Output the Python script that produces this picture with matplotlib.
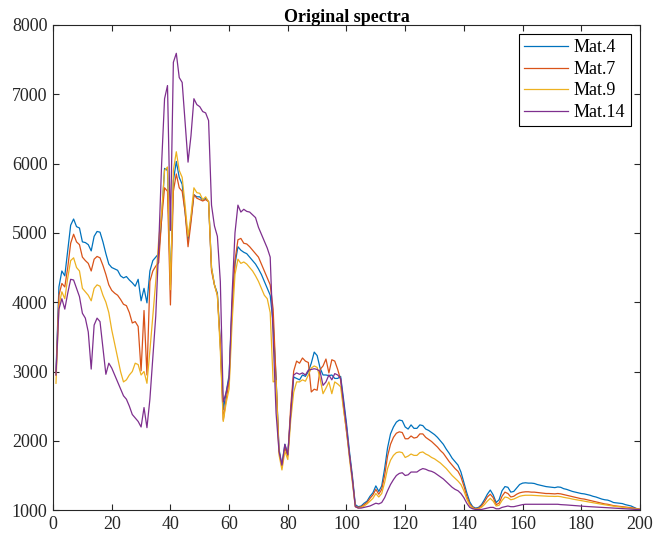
import numpy as np
import matplotlib
matplotlib.use("Agg")
import matplotlib.pyplot as plt

# band index 1..200
bands = list(range(1, 201))

mat4 = [3000, 4220, 4450, 4380, 4750, 5110, 5200, 5090, 5070, 4870,
        4860, 4830, 4740, 4950, 5020, 5010, 4870, 4700, 4550, 4500,
        4480, 4460, 4380, 4350, 4370, 4320, 4280, 4230, 4330, 4020,
        4200, 3990, 4450, 4600, 4650, 4700, 5200, 5930, 5900, 4250,
        5750, 6030, 5800, 5700, 5300, 4900, 5200, 5550, 5520, 5520,
        5470, 5500, 5450, 4500, 4250, 4130, 3400, 2450, 2700, 2950,
        3950, 4550, 4800, 4750, 4720, 4700, 4650, 4600, 4550, 4480,
        4400, 4300, 4200, 4100, 3700, 2900, 1880, 1650, 1950, 1800,
        2400, 2920, 2900, 2880, 2950, 2930, 3000, 3120, 3280, 3230,
        3050, 2950, 2950, 2940, 2950, 2900, 2900, 2930, 2600, 2250,
        1850, 1500, 1080, 1050, 1060, 1100, 1130, 1200, 1250, 1350,
        1270, 1350, 1600, 1900, 2100, 2200, 2270, 2300, 2290, 2200,
        2170, 2230, 2180, 2180, 2230, 2220, 2170, 2150, 2120, 2090,
        2050, 2000, 1950, 1880, 1820, 1750, 1700, 1650, 1550, 1400,
        1250, 1120, 1050, 1030, 1040, 1080, 1150, 1230, 1290, 1220,
        1110, 1150, 1280, 1340, 1330, 1260, 1270, 1320, 1370, 1390,
        1395, 1390, 1390, 1385, 1370, 1360, 1350, 1340, 1335, 1330,
        1325, 1335, 1330, 1310, 1300, 1285, 1270, 1260, 1250, 1240,
        1235, 1225, 1215, 1200, 1190, 1175, 1160, 1150, 1145, 1130,
        1110, 1105, 1100, 1095, 1080, 1070, 1060, 1040, 1020, 1010]

mat7 = [2950, 4100, 4270, 4220, 4500, 4850, 4980, 4870, 4830, 4650,
        4600, 4560, 4450, 4620, 4660, 4640, 4530, 4400, 4250, 4170,
        4130, 4100, 4040, 3970, 3950, 3850, 3700, 3720, 3650, 3010,
        3880, 2950, 4300, 4450, 4520, 4570, 5200, 5650, 5600, 3960,
        5600, 5850, 5650, 5600, 5300, 4800, 5150, 5550, 5500, 5480,
        5460, 5480, 5450, 4450, 4250, 4100, 3400, 2300, 2600, 2850,
        3900, 4600, 4900, 4920, 4850, 4840, 4800, 4750, 4700, 4650,
        4550, 4450, 4350, 4250, 3900, 2900, 1850, 1620, 1900, 1780,
        2500, 3005, 3150, 3120, 3195, 3150, 3130, 2705, 2745, 2730,
        3030, 3080, 3180, 2980, 3170, 3150, 3030, 2880, 2480, 2130,
        1800, 1450, 1060, 1040, 1050, 1080, 1110, 1170, 1220, 1300,
        1230, 1300, 1500, 1780, 1950, 2050, 2110, 2130, 2120, 2030,
        2030, 2070, 2040, 2050, 2100, 2100, 2050, 2020, 1990, 1950,
        1910, 1860, 1820, 1760, 1700, 1650, 1600, 1560, 1480, 1350,
        1200, 1090, 1040, 1020, 1030, 1060, 1120, 1190, 1230, 1180,
        1080, 1100, 1200, 1260, 1240, 1190, 1200, 1230, 1250, 1260,
        1265, 1265, 1260, 1260, 1255, 1250, 1245, 1240, 1240, 1238,
        1235, 1240, 1235, 1225, 1215, 1205, 1195, 1185, 1175, 1165,
        1160, 1150, 1140, 1130, 1120, 1110, 1100, 1090, 1085, 1075,
        1065, 1060, 1055, 1050, 1045, 1040, 1035, 1030, 1020, 1015]

mat9 = [2830, 3950, 4150, 4050, 4350, 4600, 4640, 4500, 4450, 4200,
        4150, 4100, 4020, 4200, 4250, 4230, 4100, 4000, 3850, 3600,
        3400, 3200, 3000, 2850, 2880, 2950, 3000, 3120, 3100, 2950,
        3000, 2830, 3300, 3800, 4300, 4900, 5300, 5900, 5950, 4180,
        5900, 6170, 5900, 5800, 5400, 4950, 5250, 5650, 5580, 5570,
        5480, 5520, 5450, 4500, 4250, 4100, 3300, 2280, 2550, 2750,
        3700, 4400, 4620, 4560, 4580, 4550, 4500, 4450, 4380, 4300,
        4200, 4100, 4050, 3850, 2850, 2870, 1800, 1580, 1850, 1730,
        2300, 2700, 2850, 2850, 2880, 2860, 2950, 3050, 3080, 3060,
        2900, 2680, 2760, 2850, 2680, 2850, 2820, 2780, 2450, 2150,
        1750, 1400, 1050, 1030, 1040, 1060, 1090, 1130, 1170, 1240,
        1190, 1240, 1400, 1600, 1720, 1790, 1830, 1840, 1830, 1760,
        1780, 1810, 1790, 1790, 1830, 1840, 1810, 1790, 1760, 1740,
        1710, 1680, 1640, 1600, 1550, 1500, 1460, 1420, 1370, 1280,
        1160, 1070, 1030, 1015, 1020, 1040, 1080, 1130, 1170, 1130,
        1060, 1070, 1140, 1190, 1180, 1150, 1160, 1180, 1200, 1210,
        1215, 1215, 1215, 1212, 1210, 1208, 1205, 1202, 1200, 1200,
        1198, 1200, 1195, 1185, 1178, 1170, 1160, 1152, 1145, 1138,
        1130, 1122, 1115, 1108, 1100, 1092, 1085, 1078, 1072, 1065,
        1058, 1052, 1048, 1042, 1038, 1032, 1028, 1022, 1018, 1012]

mat14 = [2950, 3900, 4050, 3900, 4130, 4330, 4320, 4200, 4080, 3840,
         3770, 3570, 3035, 3670, 3770, 3720, 3340, 2960, 3120, 3050,
         2950, 2850, 2750, 2650, 2600, 2500, 2380, 2330, 2280, 2200,
         2480, 2190, 2600, 3200, 3800, 4800, 6000, 6935, 7125, 5035,
         7460, 7590, 7240, 7170, 6600, 6020, 6400, 6935, 6850, 6820,
         6750, 6730, 6620, 5400, 5100, 4950, 4300, 2560, 2700, 2900,
         4100, 5000, 5400, 5300, 5340, 5310, 5300, 5260, 5220, 5080,
         4980, 4880, 4780, 4650, 3500, 2400, 1850, 1650, 1950, 1800,
         2400, 2950, 2980, 2960, 2980, 2950, 3020, 3030, 3040, 3030,
         3000, 2800, 2850, 2950, 2880, 2970, 2950, 2900, 2550, 2200,
         1800, 1450, 1050, 1030, 1030, 1040, 1050, 1060, 1080, 1100,
         1090, 1110, 1180, 1280, 1370, 1440, 1500, 1530, 1540, 1500,
         1510, 1550, 1550, 1550, 1580, 1600, 1590, 1570, 1560, 1540,
         1510, 1480, 1450, 1410, 1370, 1330, 1300, 1280, 1240, 1180,
         1100, 1040, 1020, 1010, 1010, 1010, 1020, 1030, 1040, 1040,
         1020, 1020, 1040, 1050, 1060, 1050, 1050, 1060, 1070, 1080,
         1085, 1085, 1085, 1085, 1085, 1085, 1085, 1085, 1085, 1085,
         1085, 1085, 1080, 1078, 1075, 1072, 1068, 1065, 1062, 1058,
         1055, 1052, 1050, 1048, 1045, 1042, 1040, 1038, 1035, 1032,
         1030, 1028, 1025, 1022, 1020, 1018, 1015, 1012, 1010, 1008]

labels = ["Mat.4", "Mat.7", "Mat.9", "Mat.14"]
colors = ["#0072BD", "#D95319", "#EDB120", "#7E2F8E"]

plt.rcParams['font.family'] = ['Liberation Serif', 'DejaVu Serif']
plt.rcParams['font.size'] = 13

fig = plt.figure(figsize=(6.55, 5.41), dpi=100)
ax = fig.add_axes([0.081, 0.057, 0.896, 0.897])

for series, lab, c in zip([mat4, mat7, mat9, mat14], labels, colors):
    ax.plot(bands, series, color=c, lw=0.9, label=lab)

ax.set_xlim(0, 200)
ax.set_ylim(1000, 8000)
ax.set_xticks(np.arange(0, 201, 20))
ax.set_yticks(np.arange(1000, 8001, 1000))
ax.set_title("Original spectra", fontweight="bold", fontsize=13, pad=2)

axcol = "#262626"
for s in ax.spines.values():
    s.set_color(axcol)
    s.set_linewidth(0.8)
ax.tick_params(direction="in", top=True, right=True, length=4, width=0.8,
               color=axcol, labelcolor=axcol, labelsize=13, pad=4)

leg = ax.legend(loc="upper right", fontsize=13, fancybox=False, framealpha=1,
                edgecolor="black", borderaxespad=0.5, handlelength=2.4,
                labelspacing=0.25, borderpad=0.3, handletextpad=0.35)
leg.get_frame().set_linewidth(0.8)

fig.savefig("out.png", dpi=100)
